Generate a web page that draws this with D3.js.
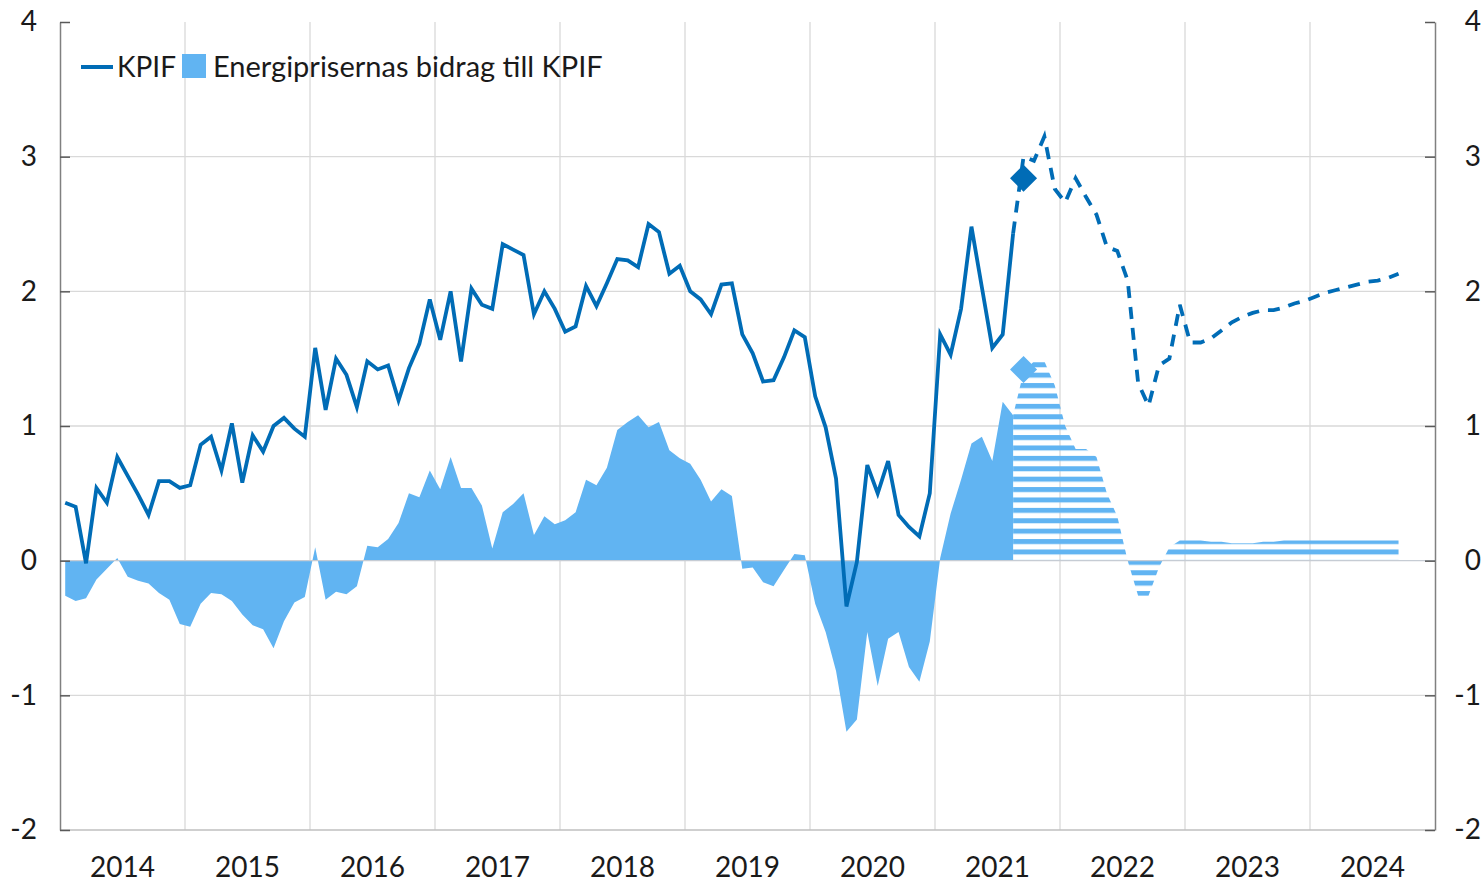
<!DOCTYPE html>
<html>
<head>
<meta charset="utf-8">
<script src="https://cdn.jsdelivr.net/npm/d3@7"></script>
<style>
  html, body { margin: 0; padding: 0; background: #fff; }
  svg { display: block; }
  text { font-family: Lato, "Open Sans", sans-serif; fill: #1a1a1a; }
</style>
</head>
<body>
<svg id="chart" width="1484" height="884"></svg>
<script>
// ---- data (monthly, first value = Jan 2014) ----
const startYear = 2014;
const yearLabels = ["2014","2015","2016","2017","2018","2019","2020","2021","2022","2023","2024"];
const yTicks = [-2, -1, 0, 1, 2, 3, 4];
const seriesNames = ["KPIF", "Energiprisernas bidrag till KPIF"];

// KPIF outcome, Jan 2014 .. Aug 2021
const kpifOutcome = [
  0.43,0.40,-0.02,0.54,0.43,0.77,0.63,0.49,0.34,0.59,0.59,0.54,
  0.56,0.86,0.92,0.67,1.02,0.58,0.93,0.81,1.00,1.06,0.98,0.92,
  1.58,1.12,1.50,1.38,1.14,1.48,1.42,1.45,1.19,1.43,1.61,1.94,
  1.64,2.00,1.48,2.02,1.90,1.87,2.35,2.31,2.27,1.83,2.00,1.87,
  1.70,1.74,2.04,1.89,2.06,2.24,2.23,2.18,2.50,2.44,2.13,2.19,
  2.00,1.94,1.83,2.05,2.06,1.68,1.54,1.33,1.34,1.51,1.71,1.66,
  1.22,0.99,0.61,-0.34,-0.01,0.71,0.50,0.74,0.34,0.25,0.18,0.50,
  1.68,1.53,1.87,2.48,2.03,1.58,1.68,2.43
];
// KPIF forecast, Aug 2021 .. Sep 2024
const forecastStart = 91;
const kpifForecast = [
  2.43,3.00,2.97,3.15,2.76,2.66,2.84,2.70,2.57,2.33,2.30,2.08,
  1.32,1.15,1.45,1.50,1.90,1.62,1.62,1.65,1.71,1.77,1.81,1.84,
  1.86,1.86,1.88,1.91,1.93,1.96,1.99,2.01,2.03,2.05,2.07,2.08,
  2.10,2.13
];
// Energy contribution outcome, Jan 2014 .. Aug 2021
const energyOutcome = [
  -0.26,-0.30,-0.28,-0.14,-0.06,0.02,-0.12,-0.15,-0.17,-0.24,-0.29,-0.47,
  -0.49,-0.32,-0.24,-0.25,-0.30,-0.40,-0.48,-0.51,-0.65,-0.45,-0.31,-0.27,
  0.10,-0.29,-0.23,-0.25,-0.19,0.11,0.10,0.16,0.28,0.50,0.47,0.67,
  0.53,0.77,0.54,0.54,0.41,0.09,0.36,0.42,0.50,0.19,0.33,0.27,
  0.30,0.36,0.60,0.56,0.69,0.97,1.03,1.08,0.99,1.03,0.82,0.76,
  0.72,0.60,0.44,0.53,0.48,-0.06,-0.05,-0.16,-0.19,-0.07,0.05,0.04,
  -0.32,-0.53,-0.82,-1.27,-1.18,-0.53,-0.93,-0.58,-0.53,-0.79,-0.90,-0.60,
  0.02,0.35,0.60,0.87,0.92,0.74,1.18,1.08
];
// Energy contribution forecast, Aug 2021 .. Sep 2024
const energyForecast = [
  1.08,1.40,1.48,1.48,1.30,1.00,0.83,0.83,0.77,0.50,0.33,0.00,
  -0.26,-0.26,-0.05,0.10,0.15,0.15,0.15,0.14,0.14,0.13,0.13,0.13,
  0.14,0.14,0.15,0.15,0.15,0.15,0.15,0.15,0.15,0.15,0.15,0.15,
  0.15,0.15
];
// Latest outcome markers (Sep 2021)
const markerIndex = 92;
const kpifMarker = 2.84;
const energyMarker = 1.42;

// ---- layout ----
const plotLeft = 60, plotRight = 1435, plotTop = 22, plotBottom = 830;
const darkBlue = "#006cb6", lightBlue = "#61b4f2";
const gridColor = "#d9d9d9";

const nMonths = yearLabels.length * 12;
const x = d3.scaleLinear().domain([0, nMonths]).range([plotLeft, plotRight]);
const y = d3.scaleLinear().domain([-2, 4]).range([plotBottom, plotTop]);
const mx = i => x(i + 0.5);
const fmt = d => String(d);  // plain hyphen-minus as in the original

const svg = d3.select("#chart");

// pattern for forecast area
const defs = svg.append("defs");
const pat = defs.append("pattern")
  .attr("id", "stripes")
  .attr("patternUnits", "userSpaceOnUse")
  .attr("width", 20).attr("height", 10.4)
  .attr("patternTransform", `translate(0,${y(0) - 11.2})`);
pat.append("rect").attr("x", 0).attr("y", 0).attr("width", 20).attr("height", 5)
  .attr("fill", lightBlue);

// grid
const yearBounds = d3.range(1, yearLabels.length).map(k => k * 12);
svg.append("g").selectAll("line").data(yearBounds).join("line")
  .attr("x1", d => x(d)).attr("x2", d => x(d))
  .attr("y1", plotTop).attr("y2", plotBottom)
  .attr("stroke", gridColor).attr("stroke-width", 1.3);
svg.append("g").selectAll("line").data(yTicks.filter(v => v !== 0 && v !== -2 && v !== 4)).join("line")
  .attr("x1", plotLeft).attr("x2", plotRight)
  .attr("y1", d => y(d)).attr("y2", d => y(d))
  .attr("stroke", gridColor).attr("stroke-width", 1.3);

// areas
const outcomeData = energyOutcome.map((v, i) => ({i, v}));
const forecastEData = energyForecast.map((v, k) => ({i: k + forecastStart, v}));
const area = d3.area().x(d => mx(d.i)).y0(y(0)).y1(d => y(d.v));
svg.append("path").datum(outcomeData).attr("d", area).attr("fill", lightBlue);
svg.append("path").datum(forecastEData).attr("d", area).attr("fill", "url(#stripes)");

// zero line
svg.append("line").attr("x1", plotLeft).attr("x2", plotRight)
  .attr("y1", y(0)).attr("y2", y(0))
  .attr("stroke", "#c6ccd4").attr("stroke-width", 1.3);

// bottom line
svg.append("line").attr("x1", plotLeft).attr("x2", plotRight)
  .attr("y1", plotBottom).attr("y2", plotBottom)
  .attr("stroke", "#bfbfbf").attr("stroke-width", 1.5);

// KPIF lines
const line = d3.line().x(d => mx(d.i)).y(d => y(d.v));
svg.append("path").datum(kpifOutcome.map((v, i) => ({i, v})))
  .attr("d", line).attr("fill", "none")
  .attr("stroke", darkBlue).attr("stroke-width", 3.8).attr("stroke-linejoin", "miter");
svg.append("path").datum(kpifForecast.map((v, k) => ({i: k + forecastStart, v})))
  .attr("d", line).attr("fill", "none")
  .attr("stroke", darkBlue).attr("stroke-width", 3.8)
  .attr("stroke-dasharray", "12,9");

// markers
const diamond = d3.symbol().type(d3.symbolSquare).size(365);
svg.append("path").attr("d", diamond)
  .attr("transform", `translate(${mx(markerIndex)},${y(energyMarker)}) rotate(45)`)
  .attr("fill", lightBlue);
svg.append("path").attr("d", diamond)
  .attr("transform", `translate(${mx(markerIndex)},${y(kpifMarker)}) rotate(45)`)
  .attr("fill", darkBlue);

// axes
const axL = svg.append("g").attr("transform", `translate(${plotLeft},0)`)
  .call(d3.axisLeft(y).tickValues(yTicks).tickFormat(fmt)
    .tickSizeInner(-10).tickSizeOuter(0).tickPadding(23));
const axR = svg.append("g").attr("transform", `translate(${plotRight},0)`)
  .call(d3.axisRight(y).tickValues(yTicks).tickFormat(fmt)
    .tickSizeInner(-10).tickSizeOuter(0).tickPadding(0));
[axL, axR].forEach(g => {
  g.select(".domain").attr("stroke", "#808080").attr("stroke-width", 1.5);
  g.selectAll(".tick line").attr("stroke", "#595959").attr("stroke-width", 1.5);
  g.selectAll(".tick text").attr("font-size", 28).attr("font-family", "Lato, sans-serif")
    .attr("fill", "#1a1a1a");
});
axR.selectAll(".tick text").attr("text-anchor", "end").attr("x", 46);

// year labels
svg.append("g").selectAll("text").data(yearLabels).join("text")
  .attr("x", (d, k) => x(k * 12 + 6))
  .attr("y", 877)
  .attr("text-anchor", "middle")
  .attr("font-size", 28)
  .text(d => d);

// legend
const lg = svg.append("g");
lg.append("line").attr("x1", 81).attr("x2", 113).attr("y1", 67).attr("y2", 67)
  .attr("stroke", darkBlue).attr("stroke-width", 4);
lg.append("text").attr("x", 117).attr("y", 77).attr("font-size", 28).text(seriesNames[0]);
lg.append("rect").attr("x", 182).attr("y", 54).attr("width", 24).attr("height", 24)
  .attr("fill", lightBlue);
lg.append("text").attr("x", 213).attr("y", 77).attr("font-size", 29).text(seriesNames[1]);
</script>
</body>
</html>
